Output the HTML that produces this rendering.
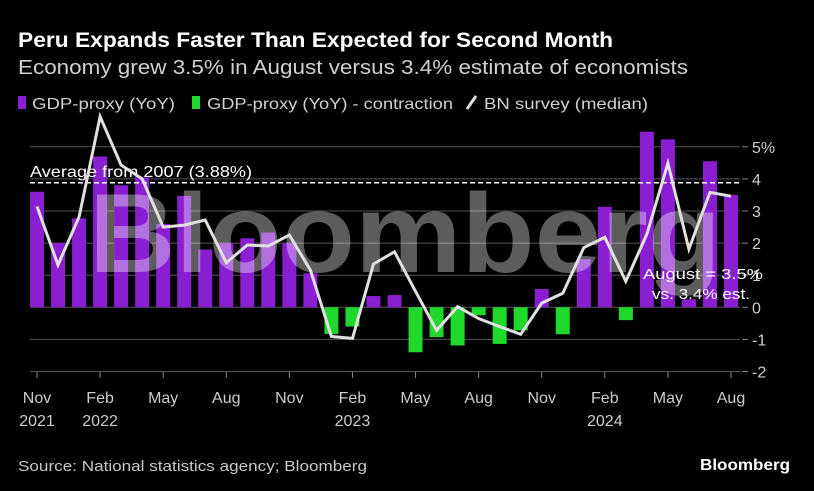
<!DOCTYPE html>
<html><head><meta charset="utf-8"><style>
html,body{margin:0;padding:0;background:#000;}
svg{display:block;font-family:"Liberation Sans",sans-serif;}
</style></head><body>
<svg id="chart" width="814" height="491" viewBox="0 0 814 491">
<rect width="814" height="491" fill="#000"/>
<text x="18" y="47" fill="#fff" font-size="21" font-weight="bold" textLength="595" lengthAdjust="spacingAndGlyphs">Peru Expands Faster Than Expected for Second Month</text>
<text x="18" y="74" fill="#d0d0d0" font-size="20" textLength="670" lengthAdjust="spacingAndGlyphs">Economy grew 3.5% in August versus 3.4% estimate of economists</text>
<g>
<rect x="18" y="96" width="8" height="13" fill="#8a1fd1"/>
<text x="32" y="109" fill="#d0d0d0" font-size="16" textLength="143" lengthAdjust="spacingAndGlyphs">GDP-proxy (YoY)</text>
<rect x="192" y="96" width="8" height="13" fill="#1fd82b"/>
<text x="207" y="109" fill="#d0d0d0" font-size="16" textLength="246" lengthAdjust="spacingAndGlyphs">GDP-proxy (YoY) - contraction</text>
<line x1="467" y1="109" x2="476" y2="96" stroke="#ddd" stroke-width="3"/>
<text x="484" y="109" fill="#d0d0d0" font-size="16" textLength="164" lengthAdjust="spacingAndGlyphs">BN survey (median)</text>
</g>
<g id="grid"></g>
<g id="bars"></g>
<text x="405" y="272" fill="#ffffff" fill-opacity="0.36" font-size="112" font-weight="bold" text-anchor="middle" textLength="632" lengthAdjust="spacingAndGlyphs">Bloomberg</text>
<g id="avg"></g>
<g id="line"></g>
<g id="xaxis"></g>
<text x="643" y="279" fill="#fff" font-size="15" textLength="120" lengthAdjust="spacingAndGlyphs">August = 3.5%</text>
<text x="652" y="299" fill="#fff" font-size="15" textLength="98" lengthAdjust="spacingAndGlyphs">vs. 3.4% est.</text>
<text x="18" y="471" fill="#c8c8c8" font-size="15" textLength="349" lengthAdjust="spacingAndGlyphs">Source: National statistics agency; Bloomberg</text>
<text x="790" y="470" fill="#fff" font-size="16" font-weight="bold" text-anchor="end" textLength="90" lengthAdjust="spacingAndGlyphs">Bloomberg</text>
</svg>
<script>
const gdpValues = [3.6,2.0,2.77,4.7,3.8,4.05,2.6,3.47,1.8,2.0,2.15,2.33,2.0,1.06,-0.83,-0.6,0.35,0.38,-1.4,-0.93,-1.19,-0.25,-1.14,-0.72,0.57,-0.84,1.5,3.13,-0.4,5.47,5.23,0.25,4.55,3.5];
const surveyValues = [3.14,1.32,2.82,5.94,4.43,4.0,2.5,2.56,2.72,1.39,1.94,1.91,2.25,1.16,-0.91,-0.97,1.35,1.73,0.5,-0.72,0.02,-0.35,-0.6,-0.84,0.13,0.44,1.86,2.18,0.81,2.28,4.49,1.81,3.58,3.46];
const yTicks = [5,4,3,2,1,0,-1,-2];
const yTickLabels = ["5%","4","3","2","1","0","-1","-2"];
const xTickIdx = [0,3,6,9,12,15,18,21,24,27,30,33];
const xTickMonth = ["Nov","Feb","May","Aug","Nov","Feb","May","Aug","Nov","Feb","May","Aug"];
const xTickYear = ["2021","2022","","","","2023","","","","2024","",""];
const average = 3.88;

const NS="http://www.w3.org/2000/svg";
const xS = i => 37 + i*21.03;
const yS = v => 307.3 - v*32.1;
function mk(tag, attrs, parent){const e=document.createElementNS(NS,tag);for(const k in attrs)e.setAttribute(k,attrs[k]);document.getElementById(parent).appendChild(e);return e;}

yTicks.forEach((v,k)=>{
  const y=yS(v);
  const g=mk('line',{x1:30,x2:740,y1:y,y2:y,stroke:'#555','stroke-width':1},'grid');
  
  
  const t=mk('line',{x1:742,x2:748,y1:y,y2:y,stroke:'#888','stroke-width':1},'grid');
  
  
  const l=mk('text',{x:752,y:y+6,fill:'#ccc','font-size':16},'grid');
  l.textContent=yTickLabels[k];
  
  
});

gdpValues.forEach((v,i)=>{
  const y0=yS(0), y1=yS(v);
  const r=mk('rect',{x:xS(i)-7,y:Math.min(y0,y1),width:14,height:Math.abs(y1-y0),fill:v>=0?'#8a1fd1':'#1fd82b'},'bars');
  
  
});

const ay=yS(average);
const al=mk('line',{x1:30,x2:740,y1:ay,y2:ay,stroke:'#fff','stroke-width':1.5,'stroke-dasharray':'5,3'},'avg');


const at=mk('text',{x:30,y:ay-6,fill:'#fff','font-size':15.5,textLength:222,lengthAdjust:'spacingAndGlyphs'},'avg');
at.textContent='Average from 2007 (3.88%)';



const pts=surveyValues.map((v,i)=>xS(i).toFixed(1)+','+yS(v).toFixed(1)).join(' ');
const pl=mk('polyline',{points:pts,fill:'none',stroke:'#e0e0e0','stroke-width':3,'stroke-linejoin':'miter'},'line');



xTickIdx.forEach((idx,k)=>{
  const x=xS(idx);
  const t=mk('line',{x1:x,x2:x,y1:372,y2:378,stroke:'#888','stroke-width':1},'xaxis');
  
  
  const m=mk('text',{x:x,y:403,fill:'#ccc','font-size':16,'text-anchor':'middle'},'xaxis');
  m.textContent=xTickMonth[k];
  
  
  if(xTickYear[k]){
    const yv=mk('text',{x:x,y:426,fill:'#ccc','font-size':16,'text-anchor':'middle'},'xaxis');
    yv.textContent=xTickYear[k];
    
    
  }
});
</script>
</body></html>
